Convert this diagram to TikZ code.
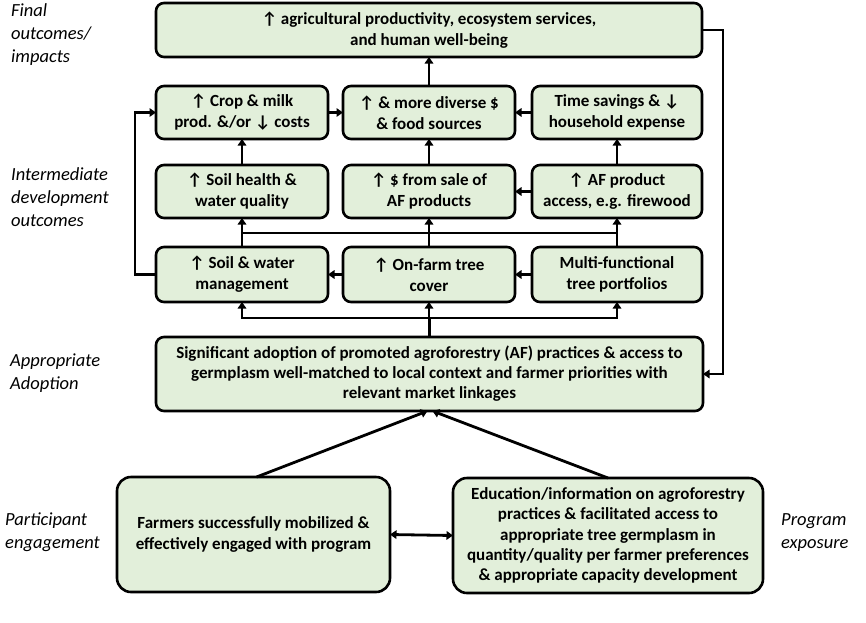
\documentclass[tikz,border=0pt]{standalone}
\usepackage{fontspec}
\setmainfont{Carlito}
\usetikzlibrary{arrows.meta}
\definecolor{boxfill}{HTML}{E2EFDA}
\tikzset{
  box/.style={draw=black, line width=2.6pt, fill=boxfill, rounded corners=8pt,
    inner sep=0pt, outer sep=0pt, align=center,
    font=\bfseries\fontsize{17}{21}\selectfont},
  bigbox/.style={box, rounded corners=14pt, font=\bfseries\fontsize{17}{20.3}\selectfont},
  lbl/.style={anchor=north west, align=left, inner sep=0pt,
    font=\itshape\fontsize{18.5}{23}\selectfont},
  conn/.style={line width=2.8pt, line cap=rect},
  arr/.style={line width=2.8pt, -{Triangle[length=6.5pt,width=8.5pt]}},
  darr/.style={line width=2.8pt, {Triangle[length=6.5pt,width=8.5pt]}-{Triangle[length=6.5pt,width=8.5pt]}},
}
\begin{document}
\begin{tikzpicture}[x=1pt,y=-1pt]
\useasboundingbox (0,0) rectangle (866,622);
% nodes
\node[box, minimum width=546pt, minimum height=54pt] (top) at (429,30)
  {↑ agricultural productivity, ecosystem services,\\and human well-being};
\node[box, minimum width=172pt, minimum height=53pt] (A2) at (242,112.5)
  {↑ Crop \& milk\\prod. \&/or ↓ costs};
\node[box, minimum width=172pt, minimum height=53pt] (B2) at (429,112.5)
  {↑ \& more diverse \$\\\& food sources};
\node[box, minimum width=170pt, minimum height=53pt] (C2) at (617,112.5)
  {Time savings \& ↓\\household expense};
\node[box, minimum width=172pt, minimum height=53pt] (A3) at (242,191.5)
  {↑ Soil health \&\\water quality};
\node[box, minimum width=172pt, minimum height=53pt] (B3) at (429,191.5)
  {↑ \$ from sale of\\AF products};
\node[box, minimum width=170pt, minimum height=53pt] (C3) at (617,191.5)
  {↑ AF product\\access, e.g. firewood};
\node[box, minimum width=172pt, minimum height=55pt] (A4) at (242,274.5)
  {↑ Soil \& water\\management};
\node[box, minimum width=172pt, minimum height=55pt] (B4) at (429,274.5)
  {↑ On-farm tree\\cover};
\node[box, minimum width=170pt, minimum height=55pt] (C4) at (617,274.5)
  {Multi-functional\\tree portfolios};
\node[box, minimum width=547pt, minimum height=74pt, font=\bfseries\fontsize{17}{20}\selectfont] (adopt) at (429.5,374)
  {Significant adoption of promoted agroforestry (AF) practices \& access to\\germplasm well-matched to local context and farmer priorities with\\relevant market linkages};
\node[bigbox, minimum width=273pt, minimum height=115pt] (BL) at (253.5,534.5)
  {Farmers successfully mobilized \&\\effectively engaged with program};
\node[bigbox, minimum width=310pt, minimum height=115pt] (BR) at (608,535.5)
  {Education/information on agroforestry\\practices \& facilitated access to\\appropriate tree germplasm in\\quantity/quality per farmer preferences\\\& appropriate capacity development};
% labels
\node[lbl] (l1) at (11,3) {Final\\outcomes/\\impacts};
\node[lbl] (l2) at (11,167) {Intermediate\\development\\outcomes};
\node[lbl] (l3) at (10,354) {Appropriate\\Adoption};
\node[lbl] (l4) at (5,513) {Participant\\engagement};
\node[lbl] (l5) at (781,513) {Program\\exposure};
% helper coordinates
\coordinate (loopx) at (135,0);
\coordinate (rx) at (723,0);
\coordinate (bus1) at (0,233);
\coordinate (bus2) at (0,318);
% row 2 to top
\draw[arr] (B2.north) -- (B2.north |- top.south);
\draw[arr] (A2.east) -- (B2.west);
\draw[arr] (C2.west) -- (B2.east);
% row 3 to row 2
\draw[arr] (A3.north) -- (A2.south);
\draw[arr] (B3.north) -- (B2.south);
\draw[arr] (C3.north) -- (C2.south);
\draw[arr] (C3.west) -- (B3.east);
% row 4 to row 3
\draw[conn] (A4.north |- bus1) -- (C4.north |- bus1);
\draw[arr] (A4.north) -- (A3.south);
\draw[arr] (B4.north) -- (B3.south);
\draw[arr] (C4.north) -- (C3.south);
\draw[arr] (B4.west) -- (A4.east);
\draw[arr] (C4.west) -- (B4.east);
% left loop
\draw[arr] (A4.west) -- (A4.west -| loopx) |- (A2.west);
% adoption to row 4
\draw[conn] (adopt.north) -- (adopt.north |- bus2);
\draw[conn] (A4.south |- bus2) -- (C4.south |- bus2);
\draw[arr] (A4.south |- bus2) -- (A4.south);
\draw[arr] (B4.south |- bus2) -- (B4.south);
\draw[arr] (C4.south |- bus2) -- (C4.south);
% right loop
\draw[arr] (top.east) -- (top.east -| rx) |- (adopt.east);
% bottom
\draw[arr] ([xshift=3pt]BL.north) -- ([xshift=-2pt]adopt.south);
\draw[arr] (BR.north) -- ([xshift=3pt]adopt.south);
\draw[darr] (BL.east) -- (BR.west);
\end{tikzpicture}
\end{document}
